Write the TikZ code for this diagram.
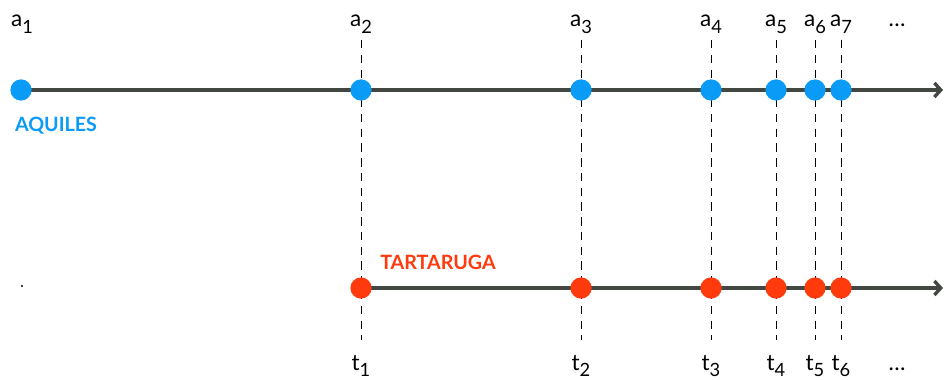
\documentclass[tikz,border=0pt]{standalone}
\usepackage{fontspec}
\setmainfont{Lato}
\usetikzlibrary{arrows.meta,backgrounds}

\definecolor{aquilesblue}{HTML}{0A9BF7}
\definecolor{tartred}{HTML}{FF3A0C}
\definecolor{axisgray}{HTML}{424742}

\newcommand{\sublbl}[2]{#1\raisebox{-0.28em}{\fontsize{13}{13}\selectfont #2}}

\tikzset{
  adot/.style={circle, fill=aquilesblue, inner sep=0pt, minimum size=0.53cm},
  tdot/.style={circle, fill=tartred, inner sep=0pt, minimum size=0.53cm},
  axis/.style={axisgray, line width=2.4pt, -{Straight Barb[length=4.5pt,width=10pt]}},
  guide/.style={black, line width=0.6pt, dash pattern=on 6pt off 4.5pt},
  poslbl/.style={font=\fontsize{16}{16}\selectfont, anchor=base, inner sep=0pt},
  who/.style={font=\fontsize{14}{14}\selectfont\bfseries},
}

\begin{document}
\begin{tikzpicture}[x=0.025cm, y=-0.025cm]
	\useasboundingbox (0,0) rectangle (944,380);
	% Aquiles, start point
	\node[adot] (a1) at (21,90) {};
	\node[poslbl] (la1) at (22,27) {\sublbl{a}{1}};
	\node[who, text=aquilesblue] (aquiles) at (56,126) {AQUILES};
	% positions a_i and t_j
	\foreach \x/\i/\j in {361/2/1,581/3/2,711/4/3,776/5/4,815/6/5,841/7/6}{
		\node[adot] (a\i) at (\x,90) {};
		\node[tdot] (t\j) at (\x,288) {};
		\node[poslbl] (la\i) at (\x,27) {\sublbl{a}{\i}};
		\node[poslbl] (lt\j) at (\x,370) {\sublbl{t}{\j}};
		\coordinate (gtop\i) at (\x,40);
		\coordinate (gbot\j) at (\x,340);
	}
	\node[poslbl] (amore) at (897,27) {…};
	\node[poslbl] (tmore) at (897,370) {…};
	\node[who, text=tartred] (tartaruga) at (438,262) {TARTARUGA};
	\fill (22,286) circle (1.1);
	\coordinate (aend) at (943,90);
	\coordinate (tend) at (943,288);
	\begin{scope}[on background layer]
		\draw[axis] (a1.center) -- (aend);
		\draw[axis] (t1.center) -- (tend);
		\foreach \i/\j in {2/1,3/2,4/3,5/4,6/5,7/6}
			\draw[guide] (gtop\i) -- (gbot\j);
	\end{scope}
\end{tikzpicture}
\end{document}
